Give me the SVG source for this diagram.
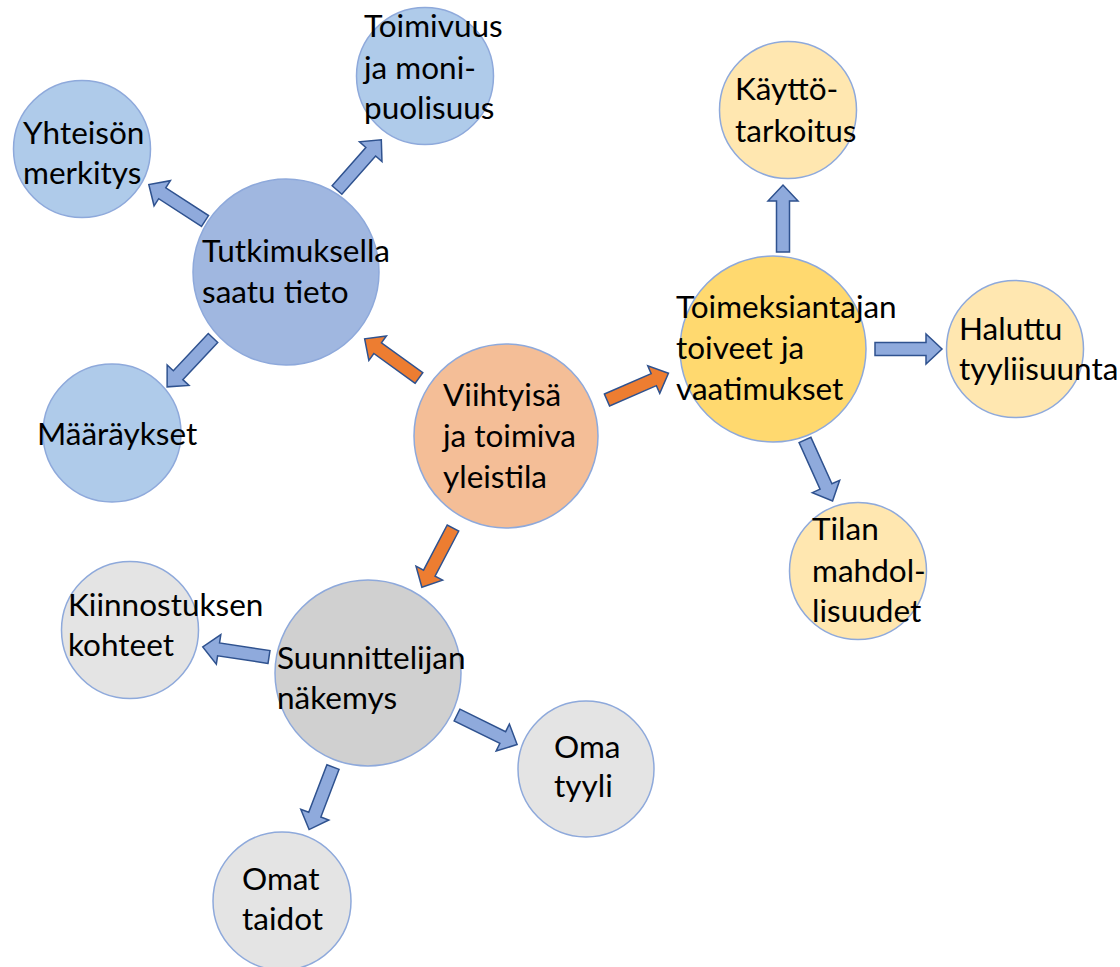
<svg xmlns="http://www.w3.org/2000/svg" width="1120" height="967" viewBox="0 0 1120 967">
<style>
.c{stroke:#8EA9DB;stroke-width:1.5}
.t{font-family:Lato,"Liberation Sans",sans-serif;font-size:31.5px;fill:#000}
.ab{fill:#8FAADC;stroke:#2F528F;stroke-width:1.5}
.ao{fill:#ED7D31;stroke:#2F528F;stroke-width:1.5}
</style>
<defs>
<path id="arr" d="M0,-6.5 H51 V-15 L67,0 L51,15 V6.5 H0 Z"/>
</defs>
<rect width="1120" height="967" fill="#fff"/>
<g id="connectors">
<use href="#arr" class="ab" transform="translate(205,221) rotate(-147)"/>
<use href="#arr" class="ab" transform="translate(337,190) rotate(-48.6)"/>
<use href="#arr" class="ab" transform="translate(213,338) rotate(133.2)"/>
<use href="#arr" class="ao" transform="translate(419,378) rotate(-144.2)"/>
<use href="#arr" class="ao" transform="translate(607,400) rotate(-23.5)"/>
<use href="#arr" class="ao" transform="translate(453,528) rotate(117.7)"/>
<use href="#arr" class="ab" transform="translate(783,252) rotate(-90)"/>
<use href="#arr" class="ab" transform="translate(875,349) rotate(0)"/>
<use href="#arr" class="ab" transform="translate(805,440) rotate(65.7)"/>
<use href="#arr" class="ab" transform="translate(269,657) rotate(-171.4)"/>
<use href="#arr" class="ab" transform="translate(457,715) rotate(26.2)"/>
<use href="#arr" class="ab" transform="translate(333,767) rotate(110.9)"/>
</g>
<g id="tutkimus">
<circle class="c" cx="286" cy="272" r="93" fill="#A0B7E0"/>
<text class="t" x="202" y="262">Tutkimuksella</text>
<text class="t" x="202" y="303">saatu tieto</text>
</g>
<g id="yhteison">
<circle class="c" cx="82" cy="149" r="68.5" fill="#AFCBEA"/>
<text class="t" x="23" y="144">Yhteisön</text>
<text class="t" x="23" y="184">merkitys</text>
</g>
<g id="toimivuus">
<circle class="c" cx="425" cy="76" r="68.5" fill="#AFCBEA"/>
<text class="t" x="364" y="37">Toimivuus</text>
<text class="t" x="364" y="79">ja moni-</text>
<text class="t" x="364" y="119">puolisuus</text>
</g>
<g id="maaraykset">
<circle class="c" cx="112" cy="433" r="69" fill="#AFCBEA"/>
<text class="t" x="37" y="445">Määräykset</text>
</g>
<g id="viihtyisa">
<circle class="c" cx="506" cy="436" r="92" fill="#F4BE97"/>
<text class="t" x="443" y="406">Viihtyisä</text>
<text class="t" x="443" y="447">ja toimiva</text>
<text class="t" x="443" y="488">yleistila</text>
</g>
<g id="toimeksiantajan">
<circle class="c" cx="773" cy="349" r="93" fill="#FFD96F"/>
<text class="t" x="676" y="318">Toimeksiantajan</text>
<text class="t" x="676" y="359">toiveet ja</text>
<text class="t" x="676" y="400">vaatimukset</text>
</g>
<g id="kaytto">
<circle class="c" cx="788" cy="110" r="68.5" fill="#FFE7B0"/>
<text class="t" x="735" y="100">Käyttö-</text>
<text class="t" x="735" y="142">tarkoitus</text>
</g>
<g id="haluttu">
<circle class="c" cx="1015" cy="349" r="68.5" fill="#FFE7B0"/>
<text class="t" x="959" y="340">Haluttu</text>
<text class="t" x="959" y="380">tyyliisuunta</text>
</g>
<g id="tilan">
<circle class="c" cx="858" cy="571" r="68.5" fill="#FFE7B0"/>
<text class="t" x="812" y="540">Tilan</text>
<text class="t" x="812" y="582">mahdol-</text>
<text class="t" x="812" y="622">lisuudet</text>
</g>
<g id="suunnittelijan">
<circle class="c" cx="368" cy="673" r="93" fill="#D0D0D0"/>
<text class="t" x="277" y="669">Suunnittelijan</text>
<text class="t" x="277" y="709">näkemys</text>
</g>
<g id="kiinnostuksen">
<circle class="c" cx="130" cy="630" r="68.5" fill="#E4E4E4"/>
<text class="t" x="68" y="616">Kiinnostuksen</text>
<text class="t" x="68" y="656">kohteet</text>
</g>
<g id="omatyyli">
<circle class="c" cx="586" cy="769" r="68" fill="#E4E4E4"/>
<text class="t" x="554" y="758">Oma</text>
<text class="t" x="554" y="797">tyyli</text>
</g>
<g id="omattaidot">
<circle class="c" cx="282" cy="901" r="69" fill="#E4E4E4"/>
<text class="t" x="242" y="890">Omat</text>
<text class="t" x="242" y="930">taidot</text>
</g>
</svg>
